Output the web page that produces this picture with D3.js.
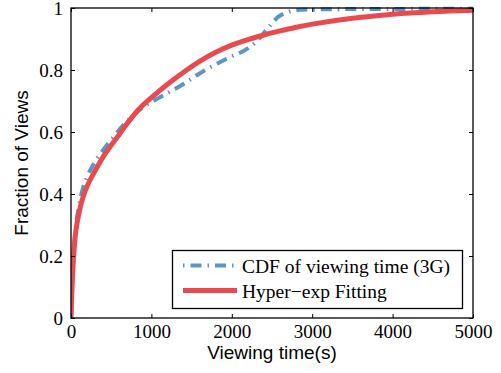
<!DOCTYPE html>
<html>
<head>
<meta charset="utf-8">
<script src="https://cdn.jsdelivr.net/npm/d3@7"></script>
<style>
  html, body { margin: 0; padding: 0; background: #fff; }
  svg { display: block; }
</style>
</head>
<body>
<svg id="chart" width="501" height="373"></svg>
<script>
// données
const cdfX = [0, 20, 50, 100, 150, 200, 300, 400, 500, 600, 700, 850, 1000, 1100, 1400, 1650, 1950, 2200, 2300, 2430, 2580, 2700, 2850, 3200, 4000, 5000]
const cdfY = [0, 0.15, 0.27, 0.36, 0.42, 0.455, 0.505, 0.542, 0.575, 0.607, 0.635, 0.671, 0.697, 0.711, 0.755, 0.797, 0.838, 0.870, 0.890, 0.929, 0.972, 0.987, 0.994, 0.996, 0.997, 0.998]

const fitX = [0, 10, 30, 60, 100, 150, 200, 300, 400, 500, 600, 700, 850, 1000, 1200, 1400, 1600, 1800, 2000, 2200, 2400, 2600, 2800, 3000, 3500, 4000, 4500, 5000]
const fitY = [0, 0.08, 0.19, 0.28, 0.34, 0.39, 0.425, 0.475, 0.52, 0.557, 0.592, 0.628, 0.675, 0.711, 0.754, 0.793, 0.828, 0.857, 0.880, 0.898, 0.913, 0.926, 0.938, 0.948, 0.967, 0.980, 0.988, 0.993]

const xTicks = [0, 1000, 2000, 3000, 4000, 5000]
const yTicks = [0, 0.2, 0.4, 0.6, 0.8, 1]
const legendLabels = ['CDF of viewing time (3G)', 'Hyper\u2212exp Fitting']

const BLUE = '#5b96c5'
const RED = '#e94a4e'

// zone du tracé (px)
const L = 71, R = 473, T = 8, B = 318

const svg = d3.select('#chart')

const x = d3.scaleLinear().domain([0, 5000]).range([L, R])
const y = d3.scaleLinear().domain([0, 1]).range([B, T])

const serif = '"Liberation Serif", "Times New Roman", serif'
const sans = '"Liberation Sans", Arial, sans-serif'

svg.append('clipPath').attr('id', 'clip')
    .append('rect').attr('x', L).attr('y', T - 3).attr('width', R - L).attr('height', B - T + 3)

const plot = svg.append('g').attr('clip-path', 'url(#clip)')

// CDF (pointillé mixte)
plot.append('path')
    .datum(d3.zip(cdfX, cdfY))
    .attr('d', d3.line().x(d => x(d[0])).y(d => y(d[1])).curve(d3.curveMonotoneX))
    .attr('fill', 'none')
    .attr('stroke', BLUE)
    .attr('stroke-width', 4)
    .attr('stroke-dasharray', '11,6,1.5,6')

// Ajustement hyper-exponentiel
plot.append('path')
    .datum(d3.zip(fitX, fitY))
    .attr('d', d3.line().x(d => x(d[0])).y(d => y(d[1])).curve(d3.curveCatmullRom.alpha(0.5)))
    .attr('fill', 'none')
    .attr('stroke', RED)
    .attr('stroke-width', 5)

// --- AXES (graduations vers l'intérieur, sur les 4 côtés) ---
const styleAxis = g => {
    g.select('.domain').remove()
    g.selectAll('.tick line').attr('stroke', '#000').attr('stroke-width', 1)
    g.selectAll('.tick text')
        .attr('font-family', serif)
        .attr('font-size', 19)
        .attr('fill', '#000')
}

svg.append('g')
    .attr('transform', `translate(0,${B})`)
    .call(d3.axisBottom(x).tickValues(xTicks).tickSizeInner(-4).tickSizeOuter(0).tickPadding(7).tickFormat(d3.format('d')))
    .call(styleAxis)

svg.append('g')
    .attr('transform', `translate(0,${T})`)
    .call(d3.axisTop(x).tickValues(xTicks).tickSizeInner(-4).tickSizeOuter(0).tickFormat(''))
    .call(styleAxis)

svg.append('g')
    .attr('transform', `translate(${L},0)`)
    .call(d3.axisLeft(y).tickValues(yTicks).tickSizeInner(-4).tickSizeOuter(0).tickPadding(8).tickFormat(d => d === 0 || d === 1 ? d : d3.format('.1f')(d)))
    .call(styleAxis)

svg.append('g')
    .attr('transform', `translate(${R},0)`)
    .call(d3.axisRight(y).tickValues(yTicks).tickSizeInner(-4).tickSizeOuter(0).tickFormat(''))
    .call(styleAxis)

// cadre
svg.append('rect')
    .attr('x', L).attr('y', T)
    .attr('width', R - L).attr('height', B - T)
    .attr('fill', 'none')
    .attr('stroke', '#000')
    .attr('stroke-width', 1.3)

// titres des axes
svg.append('text')
    .attr('x', (L + R) / 2)
    .attr('y', 359)
    .attr('text-anchor', 'middle')
    .attr('font-family', sans)
    .attr('font-size', 19)
    .text('Viewing time(s)')

svg.append('text')
    .attr('transform', `translate(28,${(T + B) / 2}) rotate(-90)`)
    .attr('text-anchor', 'middle')
    .attr('font-family', sans)
    .attr('font-size', 19)
    .text('Fraction of Views')

// --- LÉGENDE ---
const legend = svg.append('g')
legend.append('rect')
    .attr('x', 172.5).attr('y', 250.5)
    .attr('width', 290).attr('height', 58)
    .attr('fill', '#fff')
    .attr('stroke', '#000')
    .attr('stroke-width', 1.3)

const legendStyles = [
    { color: BLUE, width: 4, dash: '1.5,6,11,6' },
    { color: RED, width: 5, dash: null }
]
const legendY = d3.scalePoint().domain(legendLabels).range([265.5, 290.5])

legendLabels.forEach((label, i) => {
    const ly = legendY(label)
    legend.append('line')
        .attr('x1', 183).attr('x2', 237)
        .attr('y1', ly).attr('y2', ly)
        .attr('stroke', legendStyles[i].color)
        .attr('stroke-width', legendStyles[i].width)
        .attr('stroke-dasharray', legendStyles[i].dash)
    legend.append('text')
        .attr('x', 242)
        .attr('y', ly + 7)
        .attr('font-family', serif)
        .attr('font-size', 19.5)
        .text(label)
})
</script>
</body>
</html>
